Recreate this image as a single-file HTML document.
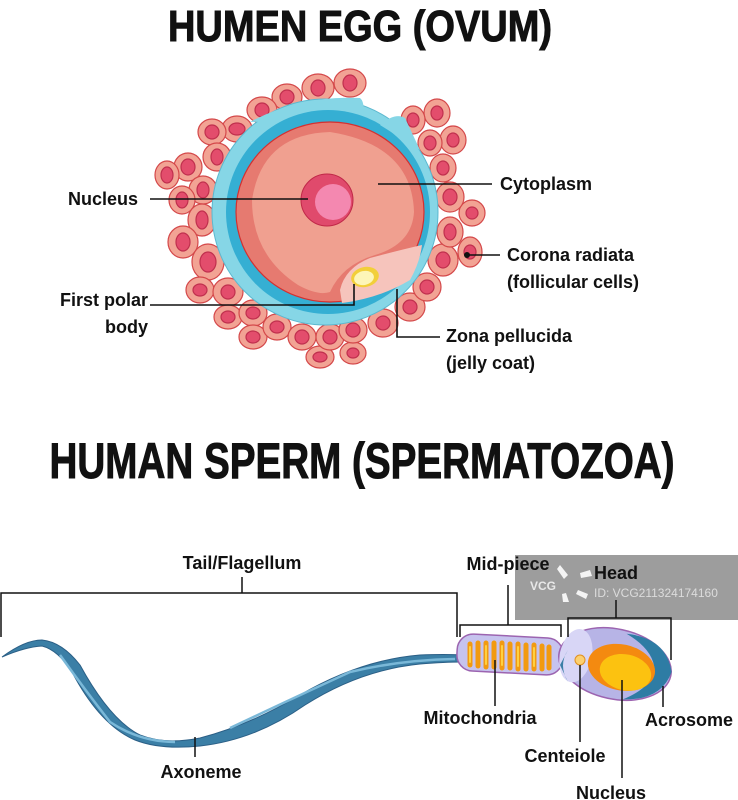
<!DOCTYPE html>
<html><head><meta charset="utf-8"><style>
html,body{margin:0;padding:0;background:#fff;}
svg{display:block;}
text{font-family:"Liberation Sans",sans-serif;font-weight:bold;fill:#111;}
</style></head><body>
<svg width="738" height="800" viewBox="0 0 738 800" xmlns="http://www.w3.org/2000/svg">
<text x="360" y="41" font-size="44" text-anchor="middle" textLength="384" lengthAdjust="spacingAndGlyphs" stroke="#111" stroke-width="1">HUMEN EGG (OVUM)</text>
<text x="362" y="478" font-size="50" text-anchor="middle" textLength="625" lengthAdjust="spacingAndGlyphs" stroke="#111" stroke-width="1">HUMAN SPERM (SPERMATOZOA)</text>

<g id="cells" stroke-width="1.2">
<g fill="#f2a394" stroke="#d4484a">
<ellipse cx="350" cy="83" rx="16" ry="14"/><ellipse cx="318" cy="88" rx="16" ry="14"/><ellipse cx="287" cy="97" rx="15" ry="13"/><ellipse cx="262" cy="110" rx="15" ry="13"/><ellipse cx="237" cy="129" rx="15" ry="13"/><ellipse cx="212" cy="132" rx="14" ry="13"/><ellipse cx="217" cy="157" rx="14" ry="14"/><ellipse cx="188" cy="167" rx="14" ry="14"/><ellipse cx="167" cy="175" rx="12" ry="14"/><ellipse cx="203" cy="190" rx="14" ry="14"/><ellipse cx="182" cy="200" rx="13" ry="14"/><ellipse cx="202" cy="220" rx="14" ry="16"/><ellipse cx="183" cy="242" rx="15" ry="16"/><ellipse cx="208" cy="262" rx="16" ry="18"/><ellipse cx="200" cy="290" rx="14" ry="13"/><ellipse cx="228" cy="292" rx="15" ry="14"/><ellipse cx="228" cy="317" rx="14" ry="12"/><ellipse cx="253" cy="313" rx="14" ry="13"/><ellipse cx="253" cy="337" rx="14" ry="12"/><ellipse cx="277" cy="327" rx="14" ry="13"/><ellipse cx="302" cy="337" rx="14" ry="13"/><ellipse cx="320" cy="357" rx="14" ry="11"/><ellipse cx="330" cy="337" rx="14" ry="13"/><ellipse cx="353" cy="353" rx="13" ry="11"/><ellipse cx="353" cy="330" rx="14" ry="13"/><ellipse cx="383" cy="323" rx="15" ry="14"/><ellipse cx="410" cy="307" rx="15" ry="14"/><ellipse cx="427" cy="287" rx="14" ry="14"/><ellipse cx="443" cy="260" rx="15" ry="16"/><ellipse cx="470" cy="252" rx="12" ry="15"/><ellipse cx="450" cy="232" rx="13" ry="15"/><ellipse cx="472" cy="213" rx="13" ry="13"/><ellipse cx="450" cy="197" rx="14" ry="15"/><ellipse cx="443" cy="168" rx="13" ry="14"/><ellipse cx="453" cy="140" rx="13" ry="14"/><ellipse cx="430" cy="143" rx="12" ry="13"/><ellipse cx="437" cy="113" rx="13" ry="14"/><ellipse cx="413" cy="120" rx="12" ry="14"/>
</g>
<g fill="#e34d6c" stroke="#c0304e">
<ellipse cx="350" cy="83" rx="7" ry="8"/><ellipse cx="318" cy="88" rx="7" ry="8"/><ellipse cx="287" cy="97" rx="7" ry="7"/><ellipse cx="262" cy="110" rx="7" ry="7"/><ellipse cx="237" cy="129" rx="8" ry="6"/><ellipse cx="212" cy="132" rx="7" ry="7"/><ellipse cx="217" cy="157" rx="6" ry="8"/><ellipse cx="188" cy="167" rx="7" ry="8"/><ellipse cx="167" cy="175" rx="6" ry="8"/><ellipse cx="203" cy="190" rx="6" ry="8"/><ellipse cx="182" cy="200" rx="6" ry="8"/><ellipse cx="202" cy="220" rx="6" ry="9"/><ellipse cx="183" cy="242" rx="7" ry="9"/><ellipse cx="208" cy="262" rx="8" ry="10"/><ellipse cx="200" cy="290" rx="7" ry="6"/><ellipse cx="228" cy="292" rx="7" ry="7"/><ellipse cx="228" cy="317" rx="7" ry="6"/><ellipse cx="253" cy="313" rx="7" ry="6"/><ellipse cx="253" cy="337" rx="7" ry="6"/><ellipse cx="277" cy="327" rx="7" ry="6"/><ellipse cx="302" cy="337" rx="7" ry="7"/><ellipse cx="320" cy="357" rx="7" ry="5"/><ellipse cx="330" cy="337" rx="7" ry="7"/><ellipse cx="353" cy="353" rx="6" ry="5"/><ellipse cx="353" cy="330" rx="7" ry="7"/><ellipse cx="383" cy="323" rx="7" ry="7"/><ellipse cx="410" cy="307" rx="7" ry="7"/><ellipse cx="427" cy="287" rx="7" ry="7"/><ellipse cx="443" cy="260" rx="7" ry="8"/><ellipse cx="470" cy="252" rx="6" ry="7"/><ellipse cx="450" cy="232" rx="6" ry="8"/><ellipse cx="472" cy="213" rx="6" ry="6"/><ellipse cx="450" cy="197" rx="7" ry="8"/><ellipse cx="443" cy="168" rx="6" ry="7"/><ellipse cx="453" cy="140" rx="6" ry="7"/><ellipse cx="430" cy="143" rx="6" ry="7"/><ellipse cx="437" cy="113" rx="6" ry="7"/><ellipse cx="413" cy="120" rx="6" ry="7"/>
</g>
</g>

<!-- zona -->
<circle cx="325" cy="212" r="113" fill="#86d6e6" stroke="#5cb8cf" stroke-width="1"/>
<path d="M250 122 Q300 95 360 98 Q366 103 362 120 Z" fill="#86d6e6"/>
<circle cx="328" cy="212" r="102" fill="#35afd3"/>
<path d="M380 125 Q395 112 405 118 L420 150 Z" fill="#86d6e6"/>
<!-- cytoplasm -->
<ellipse cx="330" cy="212" rx="94" ry="90" fill="#e67a70" stroke="#d43030" stroke-width="1.2"/>
<path d="M342 303 Q380 298 410 280 Q420 262 422 245 Q400 250 370 258 Q345 268 340 290 Z" fill="#f6c4bc"/>
<path d="M330 132 Q262 134 252 200 Q252 255 298 285 Q318 296 330 292 Q342 265 375 255 Q412 244 414 212 Q412 145 330 132 Z" fill="#f0a090"/>
<!-- nucleus -->
<circle cx="327" cy="200" r="26" fill="#e04a6c" stroke="#c02848" stroke-width="1"/>
<circle cx="333" cy="202" r="18" fill="#f488b0"/>
<!-- polar body -->
<ellipse cx="365" cy="277" rx="14" ry="10" fill="#f2cf3a" transform="rotate(-12 365 277)"/>
<ellipse cx="364" cy="278" rx="10" ry="7" fill="#fdf6b8" transform="rotate(-12 364 278)"/>

<!-- egg labels -->
<g stroke="#111" stroke-width="1.6" fill="none">
<path d="M150 199 H308"/><path d="M378 184 H492"/><path d="M467 255 H500"/>
<path d="M150 305 H354 V284"/><path d="M397 289 V337 H440"/>
</g>
<circle cx="467" cy="255" r="3" fill="#111"/>
<g font-size="18">
<text x="68" y="205">Nucleus</text>
<text x="500" y="190">Cytoplasm</text>
<text x="507" y="261">Corona radiata</text>
<text x="507" y="288">(follicular cells)</text>
<text x="148" y="306" text-anchor="end">First polar</text>
<text x="148" y="333" text-anchor="end">body</text>
<text x="446" y="342">Zona pellucida</text>
<text x="446" y="369">(jelly coat)</text>
</g>

<!-- tail -->
<path d="M2 657 Q25 640 42 640 Q62 642 80 665 Q110 720 140 735 Q165 745 200 738 Q250 725 300 695 Q360 660 420 655 Q445 654 462 655 L462 662 Q445 662 420 664 Q360 670 305 705 Q255 740 200 746 Q160 750 135 740 Q100 725 72 672 Q58 650 42 646 Q25 647 2 657 Z" fill="#3b7fa6" stroke="#2b5f86" stroke-width="1"/>
<path d="M60 655 Q85 690 110 722 Q140 742 175 742 M230 728 Q300 695 350 672 Q400 660 455 659" stroke="#7ab8d8" stroke-width="2.5" fill="none"/>

<!-- midpiece -->
<rect x="457" y="636" width="106" height="37" rx="16" fill="#c6c3ee" stroke="#9c64b0" stroke-width="1.5" transform="rotate(3 510 654)"/>
<g stroke="#f29a10" stroke-width="5" stroke-linecap="round">
<path d="M470 644 V665"/><path d="M478 643 V666"/><path d="M486 643 V667"/><path d="M494 643 V667"/><path d="M502 643 V668"/><path d="M510 644 V668"/><path d="M518 644 V669"/><path d="M526 645 V669"/><path d="M534 645 V669"/><path d="M542 646 V669"/><path d="M549 647 V668"/>
</g>
<g stroke="#ffd040" stroke-width="2" stroke-linecap="round">
<path d="M470 647 V662"/><path d="M486 646 V664"/><path d="M502 646 V665"/><path d="M518 647 V666"/><path d="M534 648 V666"/>
</g>

<!-- head -->
<g transform="rotate(12 615 664)">
<ellipse cx="615" cy="664" rx="57" ry="35" fill="#b7b4e6" stroke="#9c64b0" stroke-width="1.5"/>
<path d="M620 632 Q660 628 672 660 Q668 690 630 697 Q655 680 655 662 Q650 642 620 632 Z" fill="#2e7ca4"/>
<ellipse cx="575" cy="664" rx="16" ry="27" fill="#d8d6f6"/>
<ellipse cx="622" cy="666" rx="34" ry="23" fill="#f48a10"/>
<ellipse cx="627" cy="670" rx="26" ry="18" fill="#fcc210"/>
</g>
<path d="M568 650 Q558 665 568 682 L560 665 Z" fill="#3b7fa6"/>
<circle cx="580" cy="660" r="5" fill="#fcd070" stroke="#e09020" stroke-width="1"/>

<!-- watermark -->
<rect x="515" y="555" width="223" height="65" fill="#9d9d9d"/>
<text x="530" y="590" font-size="12" style="fill:#e8e8e8">VCG</text>
<g fill="#f4f4f4"><path d="M560 565 l8 10 -4 4 -7 -10z"/><path d="M580 573 l10 -3 2 6 -11 2z"/><path d="M578 590 l10 4 -2 5 -10 -5z"/><path d="M566 593 l3 9 -6 0 -1 -8z"/></g>
<text x="594" y="597" font-size="12" style="fill:#dcdcdc;font-weight:normal">ID: VCG211324174160</text>

<!-- sperm brackets -->
<g stroke="#111" stroke-width="1.5" fill="none">
<path d="M1 637 V593 H457 V637"/><path d="M242 593 V577"/>
<path d="M460 637 V625 H561 V637"/><path d="M508 625 V585"/>
<path d="M568 637 V618 H671 V660"/><path d="M616 618 V600"/>
<path d="M195 737 V757"/><path d="M495 660 V706"/><path d="M580 665 V742"/><path d="M622 680 V778"/><path d="M663 686 V707"/>
</g>
<g font-size="18">
<text x="242" y="569" text-anchor="middle">Tail/Flagellum</text>
<text x="508" y="570" text-anchor="middle">Mid-piece</text>
<text x="616" y="579" text-anchor="middle">Head</text>
<text x="201" y="778" text-anchor="middle">Axoneme</text>
<text x="480" y="724" text-anchor="middle">Mitochondria</text>
<text x="565" y="762" text-anchor="middle">Centeiole</text>
<text x="611" y="799" text-anchor="middle">Nucleus</text>
<text x="689" y="726" text-anchor="middle">Acrosome</text>
</g>
</svg>
</body></html>
